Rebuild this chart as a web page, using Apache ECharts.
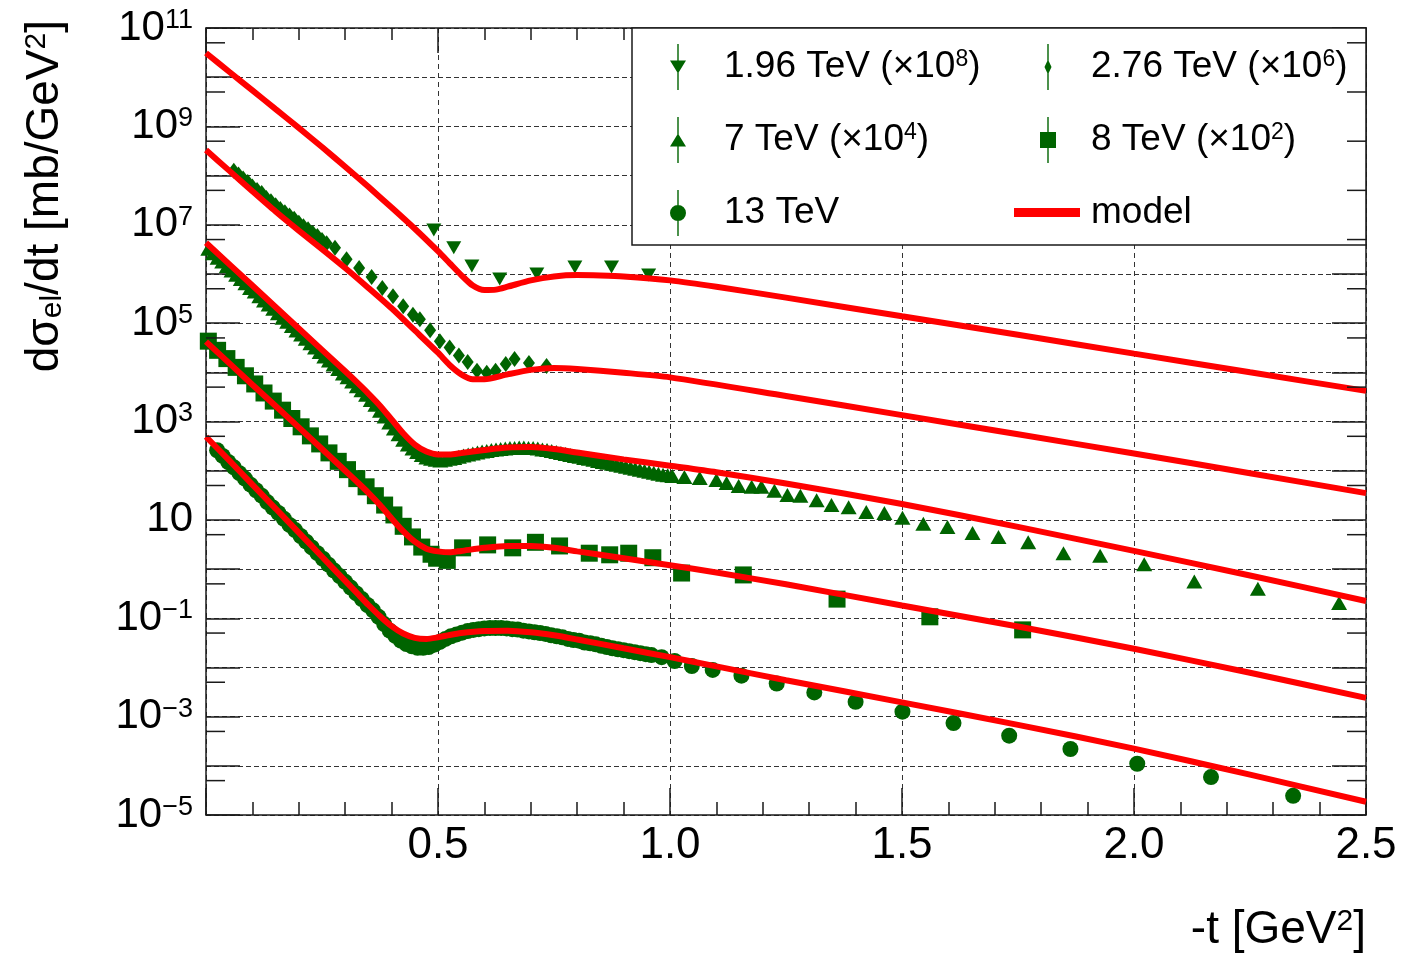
<!DOCTYPE html>
<html><head><meta charset="utf-8">
<script src="https://cdn.jsdelivr.net/npm/echarts@6/dist/echarts.min.js"></script>
<style>html,body{margin:0;padding:0;background:#fff}#c{width:1402px;height:954px}</style>
</head><body><div id="c"></div><script>
// ---- data (t in GeV^2, dσ/dt in mb/GeV^2, already multiplied by the legend factors) ----
const data196 = [[0.491,7.8e6],[0.534,3.4e6],[0.573,1.45e6],[0.633,7.9e5],[0.713,1.0e6],[0.795,1.38e6],[0.874,1.38e6],[0.954,9.5e5]];
const data276 = [[0.06,1.26e8],[0.07,1.05e8],[0.08,8.7e7],[0.09,7.4e7],[0.10,6.0e7],[0.11,5.1e7],[0.12,4.4e7],[0.13,3.5e7],[0.14,3.0e7],[0.15,2.5e7],[0.16,2.1e7],[0.17,1.8e7],[0.18,1.55e7],[0.19,1.32e7],[0.20,1.1e7],[0.21,9.3e6],[0.22,8.1e6],[0.23,6.8e6],[0.24,5.9e6],[0.25,4.9e6],[0.26,4.2e6],[0.278,3.4e6],[0.303,2.0e6],[0.33,1.32e6],[0.357,8.7e5],[0.38,5.2e5],[0.403,3.5e5],[0.425,2.2e5],[0.446,1.48e5],[0.461,1.2e5],[0.483,7.2e4],[0.504,4.3e4],[0.525,3.2e4],[0.545,2.2e4],[0.564,1.62e4],[0.584,1.07e4],[0.605,9.8e3],[0.624,1.07e4],[0.646,1.48e4],[0.665,1.86e4],[0.696,1.55e4],[0.734,1.35e4]];
const data7 = [[0.005,3.24e6],[0.015,2.63e6],[0.025,2.14e6],[0.035,1.78e6],[0.045,1.45e6],[0.055,1.17e6],[0.065,9.6e5],[0.075,7.9e5],[0.085,6.5e5],[0.095,5.2e5],[0.105,4.4e5],[0.115,3.5e5],[0.125,2.9e5],[0.135,2.4e5],[0.145,1.95e5],[0.155,1.58e5],[0.165,1.29e5],[0.175,1.07e5],[0.185,8.7e4],[0.195,7.1e4],[0.205,5.9e4],[0.215,4.8e4],[0.225,3.9e4],[0.235,3.2e4],[0.245,2.6e4],[0.255,2.1e4],[0.265,1.74e4],[0.275,1.44e4],[0.285,1.17e4],[0.295,9.5e3],[0.305,7.9e3],[0.315,6.5e3],[0.325,5.2e3],[0.335,4.3e3],[0.345,3.5e3],[0.355,2.75e3],[0.365,2.2e3],[0.375,1.66e3],[0.385,1.26e3],[0.395,955],[0.405,724],[0.415,550],[0.425,427],[0.435,339],[0.445,282],[0.455,240],[0.465,209],[0.475,186],[0.485,174],[0.495,166],[0.505,162],[0.515,166],[0.525,174],[0.535,182],[0.545,191],[0.555,204],[0.565,214],[0.575,224],[0.585,234],[0.595,245],[0.605,251],[0.615,263],[0.625,269],[0.635,275],[0.645,282],[0.655,288],[0.665,288],[0.675,295],[0.685,295],[0.695,288],[0.705,288],[0.715,282],[0.725,269],[0.735,263],[0.745,251],[0.755,240],[0.765,229],[0.775,219],[0.785,209],[0.795,200],[0.805,191],[0.815,182],[0.825,174],[0.835,166],[0.845,158],[0.855,151],[0.865,145],[0.875,138],[0.885,132],[0.895,126],[0.905,120],[0.915,115],[0.925,110],[0.935,105],[0.945,100],[0.955,95],[0.965,91],[0.975,87],[0.985,83],[0.995,81],[1.005,78],[1.031,74],[1.064,71],[1.1,65],[1.122,56],[1.148,49],[1.176,47],[1.197,47],[1.225,39],[1.253,32],[1.281,31],[1.316,25],[1.348,20],[1.385,18],[1.423,14.5],[1.462,13.8],[1.501,11],[1.546,8.3],[1.598,7.2],[1.652,5.4],[1.708,4.5],[1.772,3.5],[1.848,2.1],[1.927,1.86],[2.022,1.26],[2.13,0.56],[2.267,0.4],[2.442,0.204]];
const data8 = [[0.005,4.3e4],[0.025,2.8e4],[0.045,1.9e4],[0.065,1.26e4],[0.085,8.5e3],[0.105,5.8e3],[0.125,3.8e3],[0.145,2.6e3],[0.165,1.7e3],[0.185,1.15e3],[0.205,780],[0.225,510],[0.245,350],[0.265,230],[0.285,155],[0.305,105],[0.325,69],[0.345,47],[0.365,31],[0.385,20],[0.405,12.6],[0.425,7.4],[0.445,4.5],[0.465,2.8],[0.485,2.0],[0.497,1.66],[0.52,1.5],[0.553,2.7],[0.607,3.1],[0.661,2.7],[0.71,3.5],[0.762,2.95],[0.826,2.1],[0.87,1.95],[0.911,2.1],[0.963,1.7],[1.025,0.83],[1.158,0.76],[1.36,0.245],[1.56,0.107],[1.76,0.058]];
const data13 = [[0.024,260],[0.036,200],[0.048,150],[0.06,117],[0.072,89],[0.084,69],[0.096,52],[0.108,40],[0.12,31],[0.132,23],[0.144,17.8],[0.156,13.8],[0.168,10.5],[0.18,7.9],[0.192,6.2],[0.204,4.7],[0.216,3.6],[0.228,2.75],[0.24,2.1],[0.252,1.62],[0.264,1.23],[0.276,0.93],[0.288,0.72],[0.3,0.55],[0.312,0.42],[0.324,0.32],[0.336,0.245],[0.348,0.186],[0.36,0.145],[0.372,0.107],[0.384,0.076],[0.396,0.056],[0.408,0.044],[0.42,0.035],[0.432,0.030],[0.444,0.027],[0.456,0.025],[0.468,0.025],[0.48,0.026],[0.492,0.029],[0.504,0.033],[0.516,0.038],[0.528,0.043],[0.54,0.047],[0.552,0.051],[0.564,0.055],[0.576,0.058],[0.588,0.060],[0.6,0.062],[0.612,0.063],[0.624,0.063],[0.636,0.063],[0.648,0.062],[0.66,0.060],[0.672,0.059],[0.684,0.056],[0.696,0.054],[0.708,0.052],[0.72,0.050],[0.732,0.048],[0.744,0.045],[0.756,0.043],[0.768,0.041],[0.78,0.038],[0.792,0.036],[0.804,0.035],[0.816,0.032],[0.828,0.031],[0.84,0.0295],[0.852,0.0275],[0.864,0.026],[0.876,0.0245],[0.888,0.0234],[0.9,0.0224],[0.912,0.0214],[0.924,0.0204],[0.936,0.0195],[0.948,0.0186],[0.96,0.0178],[0.982,0.0162],[1.01,0.0135],[1.047,0.0107],[1.092,0.0089],[1.154,0.0068],[1.23,0.0047],[1.311,0.0031],[1.4,0.0020],[1.501,0.00126],[1.611,7.4e-4],[1.731,4.1e-4],[1.863,2.2e-4],[2.007,1.1e-4],[2.166,5.9e-5],[2.343,2.45e-5]];
const model196 = [[0,3.1e10],[0.05,1.29e10],[0.1,5.4e9],[0.15,2.24e9],[0.2,9.3e8],[0.25,3.8e8],[0.3,1.51e8],[0.35,5.9e7],[0.4,2.24e7],[0.45,8.3e6],[0.5,2.9e6],[0.525,1.66e6],[0.55,9.5e5],[0.575,5.8e5],[0.6,4.7e5],[0.625,4.8e5],[0.65,5.5e5],[0.7,7.4e5],[0.75,8.9e5],[0.8,9.5e5],[0.85,9.3e5],[0.9,8.9e5],[1.0,7.4e5],[1.1,5.5e5],[1.25,3.3e5],[1.5,1.38e5],[1.75,5.8e4],[2.0,2.4e4],[2.25,1.0e4],[2.5,4.2e3]];
const model276 = [[0,3.3e8],[0.05,1.26e8],[0.1,4.8e7],[0.15,1.86e7],[0.2,7.6e6],[0.25,3.2e6],[0.3,1.32e6],[0.35,5.2e5],[0.4,2.0e5],[0.45,7.1e4],[0.5,2.5e4],[0.525,1.41e4],[0.55,9.1e3],[0.575,7.2e3],[0.6,7.2e3],[0.65,9.1e3],[0.7,1.12e4],[0.75,1.23e4],[0.8,1.17e4],[0.9,9.8e3],[1.0,7.9e3],[1.25,3.3e3],[1.5,1.35e3],[1.75,550],[2.0,224],[2.25,89],[2.5,35]];
const model7 = [[0,4.3e6],[0.1,5.8e5],[0.2,7.8e4],[0.3,1.05e4],[0.325,6.3e3],[0.35,3.7e3],[0.375,2.1e3],[0.4,1.1e3],[0.425,575],[0.45,339],[0.475,245],[0.5,214],[0.525,214],[0.55,229],[0.6,263],[0.65,295],[0.7,302],[0.75,275],[0.8,234],[0.9,170],[1.0,126],[1.1,93],[1.25,55],[1.5,21],[1.75,7.2],[2.0,2.34],[2.25,0.74],[2.5,0.224]];
const model8 = [[0,4.2e4],[0.1,5.6e3],[0.2,760],[0.3,100],[0.325,60],[0.35,35.5],[0.375,20],[0.4,10.7],[0.425,5.9],[0.45,3.6],[0.475,2.6],[0.5,2.29],[0.525,2.19],[0.55,2.34],[0.6,2.7],[0.65,2.95],[0.7,2.95],[0.75,2.7],[0.8,2.29],[0.9,1.66],[1.0,1.2],[1.1,0.85],[1.25,0.49],[1.5,0.182],[1.75,0.068],[2.0,0.024],[2.25,0.0078],[2.5,0.0024]];
const model13 = [[0,490],[0.05,162],[0.1,52],[0.15,17],[0.2,5.5],[0.25,1.78],[0.3,0.575],[0.325,0.327],[0.35,0.186],[0.375,0.11],[0.4,0.069],[0.425,0.049],[0.45,0.040],[0.475,0.038],[0.5,0.041],[0.525,0.0457],[0.55,0.050],[0.6,0.055],[0.65,0.056],[0.7,0.052],[0.75,0.045],[0.8,0.037],[0.9,0.0245],[1.0,0.0162],[1.1,0.0105],[1.25,0.0055],[1.5,0.00195],[1.75,6.8e-4],[2.0,2.24e-4],[2.25,6.6e-5],[2.5,1.86e-5]];
const yMinorTicks = [5e10,5e9,5e8,5e7,5e6,5e5,5e4,5e3,5e2,50,5,0.5,0.05,0.005,5e-4,5e-5];
const legendLabels = {
  '1.96 TeV': ['1.96 TeV (\u00d710', '8', ')'],
  '2.76 TeV': ['2.76 TeV (\u00d710', '6', ')'],
  '7 TeV': ['7 TeV (\u00d710', '4', ')'],
  '8 TeV': ['8 TeV (\u00d710', '2', ')'],
  '13 TeV': ['13 TeV', '', ''],
  'model': ['model', '', '']
};

const FONT = 'Liberation Sans, Arial, Helvetica, sans-serif';
const GREEN = '#006400';
const RED = '#ff0000';
const AX = '#1a1a1a';

const chart = echarts.init(document.getElementById('c'), null, {renderer: 'canvas'});

function legendFmt(gap){
  return function(name){
    const p = legendLabels[name];
    let s = '{g' + gap + '|}{t|' + p[0] + '}';
    if (p[1]) s += '{s|' + p[1] + '}{t|' + p[2] + '}';
    return s;
  };
}
const legendRich = {
  t: {fontSize: 37, fontFamily: FONT, color: '#000'},
  s: {fontSize: 23, fontFamily: FONT, color: '#000', verticalAlign: 'top'},
  g34: {width: 33}, g30: {width: 30}, g6: {width: 6}
};
const bar = 'M7.3,0H8.7V46H7.3Z ';
const icons = {
  down: 'path://' + bar + 'M0,16.5H16L8,29.5Z',
  up: 'path://' + bar + 'M8,16.5L16,29.5H0Z',
  circ: 'path://' + bar + 'M0,23A8,8 0 1,1 16,23A8,8 0 1,1 0,23Z',
  diam: 'path://' + bar + 'M8,15.5L11.5,23L8,30.5L4.5,23Z',
  sq: 'path://' + bar + 'M0,15H16V31H0Z'
};

function scatter(name, d, symbol, size, rot){
  return {type: 'scatter', name: name, data: d, symbol: symbol, symbolSize: size, symbolRotate: rot || 0,
    itemStyle: {color: GREEN, opacity: 1}, z: 2, animation: false};
}
function model(d){
  return {type: 'line', name: 'model', data: d, showSymbol: false, smooth: 0.25,
    lineStyle: {color: RED, width: 6}, itemStyle: {color: RED}, z: 5, animation: false};
}

const option = {
  animation: false,
  backgroundColor: '#fff',
  grid: {left: 206, top: 28, width: 1160, height: 787, show: false},
  xAxis: [
    {type: 'value', min: 0, max: 2.5, interval: 0.5, position: 'bottom',
      axisLine: {show: true, onZero: false, lineStyle: {color: AX, width: 1.5}},
      axisTick: {show: true, inside: true, length: 27, lineStyle: {color: AX, width: 1.5}},
      minorTick: {show: true, splitNumber: 5, length: 13, lineStyle: {color: AX, width: 1.5}},
      splitLine: {show: true, lineStyle: {color: '#333', width: 1, type: [5, 4]}},
      axisLabel: {show: true, margin: 9, fontSize: 44, fontFamily: FONT, color: '#000',
        formatter: function(v){ return v === 0 ? '' : v.toFixed(1); }}},
    {type: 'value', min: 0, max: 2.5, interval: 0.5, position: 'top',
      axisLine: {show: true, onZero: false, lineStyle: {color: AX, width: 1.5}},
      axisTick: {show: true, inside: true, length: 25, lineStyle: {color: AX, width: 1.5}},
      minorTick: {show: true, splitNumber: 5, length: 12, lineStyle: {color: AX, width: 1.5}},
      splitLine: {show: false}, axisLabel: {show: false}}
  ],
  yAxis: [
    {type: 'log', logBase: 10, min: 1e-5, max: 1e11, interval: 1, splitNumber: 16, position: 'left',
      axisLine: {show: true, onZero: false, lineStyle: {color: AX, width: 1.5}},
      axisTick: {show: true, inside: true, length: 34, lineStyle: {color: AX, width: 1.5}},
      splitLine: {show: true, lineStyle: {color: '#333', width: 1, type: [5, 3]}},
      axisLabel: {show: true, margin: 13, fontFamily: FONT, color: '#000',
        formatter: function(v){
          const e = Math.round(Math.log10(v));
          if (((e % 2) + 2) % 2 === 0) return '';
          if (e === 1) return '{b|10}';
          return '{b|10}{s|' + (e < 0 ? '\u2212' + (-e) : e) + '}';
        },
        rich: {b: {fontSize: 42, fontFamily: FONT, color: '#000'},
               s: {fontSize: 27, fontFamily: FONT, color: '#000', verticalAlign: 'top'}}}},
    {type: 'log', logBase: 10, min: 1e-5, max: 1e11, interval: 1, splitNumber: 16, position: 'right',
      axisLine: {show: true, onZero: false, lineStyle: {color: AX, width: 1.5}},
      axisTick: {show: true, inside: true, length: 34, lineStyle: {color: AX, width: 1.5}},
      splitLine: {show: false}, axisLabel: {show: false}}
  ],
  legend: [
    {left: 670, top: 44, orient: 'vertical', padding: 0, itemGap: 27, itemWidth: 16, itemHeight: 46,
      selectedMode: false, formatter: legendFmt(34), textStyle: {rich: legendRich, fontSize: 37, fontFamily: FONT},
      data: [{name: '1.96 TeV', icon: icons.down}, {name: '7 TeV', icon: icons.up}, {name: '13 TeV', icon: icons.circ}]},
    {left: 1040, top: 44, orient: 'vertical', padding: 0, itemGap: 27, itemWidth: 16, itemHeight: 46,
      selectedMode: false, formatter: legendFmt(30), textStyle: {rich: legendRich, fontSize: 37, fontFamily: FONT},
      data: [{name: '2.76 TeV', icon: icons.diam}, {name: '8 TeV', icon: icons.sq}]},
    {left: 1014, top: 194, orient: 'vertical', padding: 0, itemWidth: 66, itemHeight: 9,
      selectedMode: false, formatter: legendFmt(6), textStyle: {rich: legendRich, fontSize: 37, fontFamily: FONT},
      data: [{name: 'model', icon: 'rect'}]}
  ],
  graphic: [
    {type: 'rect', z: 3, shape: {x: 632, y: 28, width: 734, height: 217},
      style: {fill: '#fff', stroke: AX, lineWidth: 1.5}},
    {type: 'text', z: 3, x: 45, y: 20, rotation: Math.PI / 2,
      style: {text: '{a|d\u03c3}{b|el}{a|/dt [mb/GeV}{p|2}{a|]}', align: 'right', verticalAlign: 'middle',
        rich: {a: {fontSize: 46, fontFamily: FONT, color: '#000'},
               b: {fontSize: 30, fontFamily: FONT, color: '#000', verticalAlign: 'bottom'},
               p: {fontSize: 30, fontFamily: FONT, color: '#000', verticalAlign: 'top'}}}},
    {type: 'text', z: 3, x: 1366, y: 930,
      style: {text: '{a|-t [GeV}{p|2}{a|]}', align: 'right', verticalAlign: 'middle',
        rich: {a: {fontSize: 46, fontFamily: FONT, color: '#000'},
               p: {fontSize: 30, fontFamily: FONT, color: '#000', verticalAlign: 'top'}}}}
  ],
  series: [
    scatter('1.96 TeV', data196, 'triangle', [15, 13], 180),
    scatter('2.76 TeV', data276, 'diamond', [12, 16]),
    scatter('7 TeV', data7, 'triangle', [16, 14]),
    scatter('8 TeV', data8, 'rect', [17, 17]),
    scatter('13 TeV', data13, 'circle', 16),
    model(model196), model(model276), model(model7), model(model8), model(model13),
    {type: 'custom', silent: true, z: 6, clip: false, animation: false,
      data: yMinorTicks.map(function(v){ return [0, v]; }),
      renderItem: function(params, api){
        const p0 = api.coord([0, api.value(1)]);
        const p1 = api.coord([2.5, api.value(1)]);
        const st = {stroke: AX, lineWidth: 1.5};
        return {type: 'group', children: [
          {type: 'line', shape: {x1: p0[0], y1: p0[1], x2: p0[0] + 19, y2: p0[1]}, style: st},
          {type: 'line', shape: {x1: p1[0] - 19, y1: p1[1], x2: p1[0], y2: p1[1]}, style: st}
        ]};
      }}
  ]
};
chart.setOption(option);
</script></body></html>
